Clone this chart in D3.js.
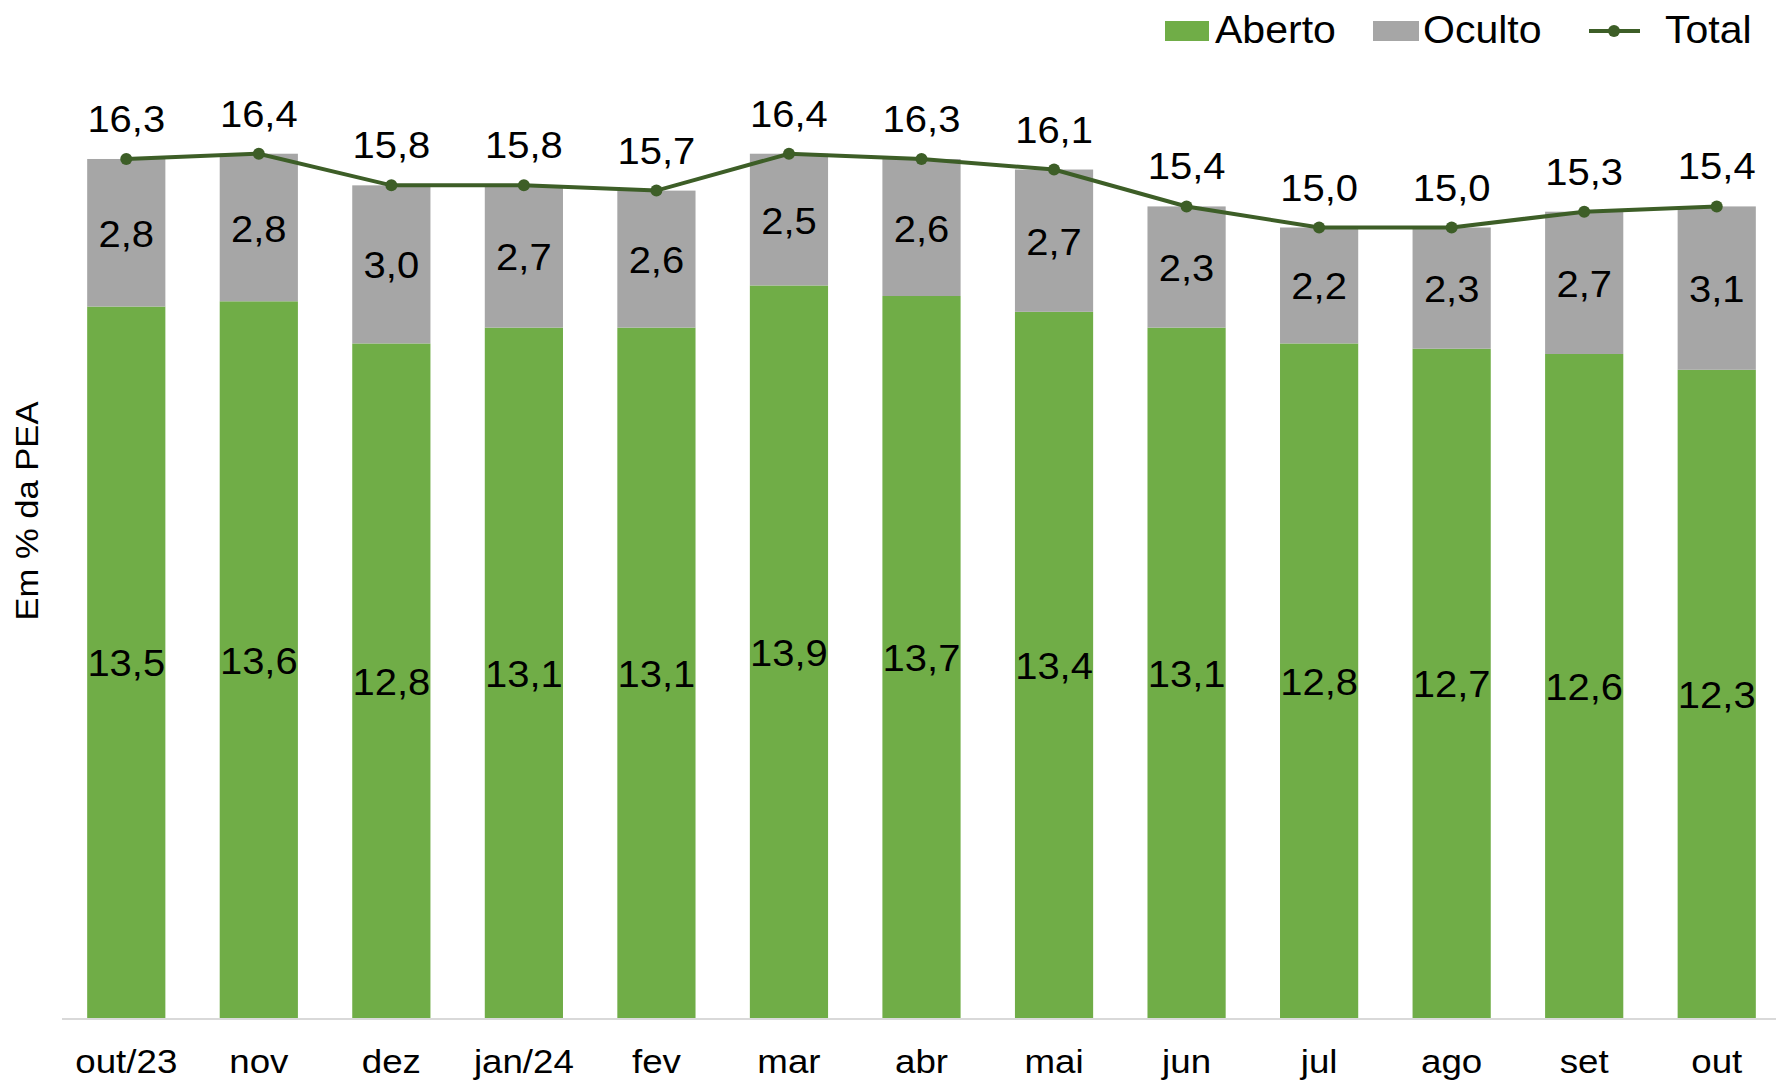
<!DOCTYPE html>
<html>
<head>
<meta charset="utf-8">
<script src="https://cdn.jsdelivr.net/npm/d3@7"></script>
<style>
  body { margin: 0; background: #fff; }
  text { font-family: "Liberation Sans", Arial, sans-serif; fill: #000; }
</style>
</head>
<body>
<svg id="chart"></svg>
<script>
// data
let months = ['out/23', 'nov', 'dez', 'jan/24', 'fev', 'mar', 'abr', 'mai', 'jun', 'jul', 'ago', 'set', 'out'];
let aberto = [13.5, 13.6, 12.8, 13.1, 13.1, 13.9, 13.7, 13.4, 13.1, 12.8, 12.7, 12.6, 12.3];
let oculto = [2.8, 2.8, 3.0, 2.7, 2.6, 2.5, 2.6, 2.7, 2.3, 2.2, 2.3, 2.7, 3.1];
let total = [16.3, 16.4, 15.8, 15.8, 15.7, 16.4, 16.3, 16.1, 15.4, 15.0, 15.0, 15.3, 15.4];

let width = 1776;
let height = 1082;
let baseY = 1018;
let stretch = 1.08; // text in the original is a bit wider than Arial

let green = '#70ad47';
let grey = '#a6a6a6';
let lineColor = '#3d5e27';

let fmt = (v) => v.toFixed(1).replace('.', ',');

let svg = d3.select('#chart')
    .attr('width', width)
    .attr('height', height);

let xScale = d3.scaleBand()
    .domain(months)
    .range([60, 1783])
    .paddingInner(0.41)
    .paddingOuter(0.205);

let yScale = d3.scaleLinear()
    .domain([0, 18])
    .range([baseY, baseY - 18 * 52.7]);

let rows = months.map((m, i) => ({ m: m, a: aberto[i], o: oculto[i], t: total[i] }));

// green part
svg.selectAll('rect.aberto')
    .data(rows)
    .enter()
    .append('rect')
    .attr('class', 'aberto')
    .attr('x', d => xScale(d.m))
    .attr('width', xScale.bandwidth())
    .attr('y', d => yScale(d.a))
    .attr('height', d => baseY - yScale(d.a))
    .attr('fill', green);

// grey part on top
svg.selectAll('rect.oculto')
    .data(rows)
    .enter()
    .append('rect')
    .attr('class', 'oculto')
    .attr('x', d => xScale(d.m))
    .attr('width', xScale.bandwidth())
    .attr('y', d => yScale(d.a + d.o))
    .attr('height', d => yScale(d.a) - yScale(d.a + d.o))
    .attr('fill', grey);

// x axis
let xAxis = d3.axisBottom(xScale).tickSize(0).tickPadding(0);
let gx = svg.append('g')
    .attr('transform', 'translate(0,' + baseY + ')')
    .call(xAxis);
gx.select('.domain').remove();
gx.selectAll('text')
    .attr('y', 55)
    .attr('dy', null)
    .attr('transform', 'scale(' + stretch + ',1)')
    .style('font-size', '34px')
    .style('font-family', '"Liberation Sans", Arial, sans-serif')
    .attr('fill', '#000');
svg.append('line')
    .attr('x1', 62).attr('x2', width)
    .attr('y1', baseY + 1).attr('y2', baseY + 1)
    .attr('stroke', '#d9d9d9')
    .attr('stroke-width', 2);

// total line
let cx = d => xScale(d.m) + xScale.bandwidth() / 2;
let line = d3.line()
    .x(cx)
    .y(d => yScale(d.t));

svg.append('path')
    .datum(rows)
    .attr('d', line)
    .attr('fill', 'none')
    .attr('stroke', lineColor)
    .attr('stroke-width', 4);

svg.selectAll('circle.pt')
    .data(rows)
    .enter()
    .append('circle')
    .attr('class', 'pt')
    .attr('cx', cx)
    .attr('cy', d => yScale(d.t))
    .attr('r', 6)
    .attr('fill', lineColor);

// labels, stretched a little sideways
let labelSize = 37;
let addLabels = (cls, yFn, valFn) => {
    svg.selectAll('text.' + cls)
        .data(rows)
        .enter()
        .append('text')
        .attr('class', cls)
        .attr('transform', d => 'translate(' + cx(d) + ',' + yFn(d) + ') scale(' + stretch + ',1)')
        .attr('text-anchor', 'middle')
        .style('font-size', labelSize + 'px')
        .text(d => fmt(valFn(d)));
};
addLabels('lt', d => yScale(d.t) - 27, d => d.t);
addLabels('lo', d => (yScale(d.a) + yScale(d.a + d.o)) / 2 + 14, d => d.o);
addLabels('la', d => (yScale(d.a) + baseY) / 2 + 14, d => d.a);

// y title
svg.append('text')
    .attr('transform', 'translate(38,511) rotate(-90) scale(' + stretch + ',1)')
    .attr('text-anchor', 'middle')
    .style('font-size', '32px')
    .text('Em % da PEA');

// legend
let legend = svg.append('g');
let legendText = (x, label) => legend.append('text')
    .attr('transform', 'translate(' + x + ',43) scale(' + stretch + ',1)')
    .style('font-size', '38px')
    .text(label);
legend.append('rect').attr('x', 1165).attr('y', 21).attr('width', 44).attr('height', 20).attr('fill', green);
legendText(1215, 'Aberto');
legend.append('rect').attr('x', 1373).attr('y', 21).attr('width', 46).attr('height', 20).attr('fill', grey);
legendText(1423, 'Oculto');
legend.append('line')
    .attr('x1', 1589).attr('x2', 1640)
    .attr('y1', 31).attr('y2', 31)
    .attr('stroke', lineColor).attr('stroke-width', 4);
legend.append('circle').attr('cx', 1614).attr('cy', 31).attr('r', 6).attr('fill', lineColor);
legendText(1665, 'Total');
</script>
</body>
</html>
